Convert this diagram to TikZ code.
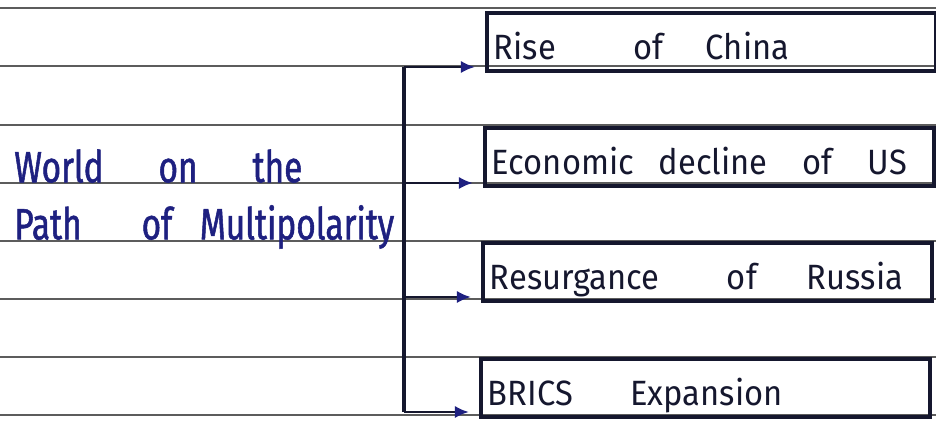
\documentclass[tikz,border=0pt]{standalone}
\usepackage{fontspec}
\setmainfont{Fira Sans}
\newfontfamily\hand{Fira Sans}[FakeStretch=0.76, FakeBold=1.2]
\newfontfamily\boxhand{Fira Sans}[FakeStretch=0.93]
\usepackage{xcolor}
\usepackage{tikz}
\usetikzlibrary{calc}
\usetikzlibrary{arrows.meta}
\definecolor{ink}{HTML}{1E2080}
\definecolor{pen}{HTML}{15172E}
\definecolor{ruled}{HTML}{5C5C5C}
\newcommand{\rulelines}{8,66,125,183,241,299,357,415}
\newcommand{\gap}[1]{\hspace{#1}}

\begin{document}
\begin{tikzpicture}[x=0.02cm, y=-0.02cm,
    every node/.style={inner sep=0pt},
    paper/.style={draw=ruled, line width=0.6pt},
    title/.style={anchor=north west, align=left, text=ink,
      font=\hand\fontsize{25}{32.5}\selectfont},
    topic/.style={draw=pen, line width=2.2pt, anchor=north west,
      minimum width=8.98cm, minimum height=1.16cm,
      text width=8.7cm, align=left, text=pen,
      text height=0.72cm, text depth=-0.2cm,
      font=\boxhand\fontsize{20}{22}\selectfont},
    trunk/.style={draw=pen, line width=1.8pt},
    feed/.style={draw=pen, line width=1.6pt, shorten >=0.2cm,
      -{Latex[length=8pt, width=7pt, color=ink]}}]
  \useasboundingbox (0,0) rectangle (936,438);

  % notebook lines
  \foreach \y in \rulelines {
    \draw[paper] (0,\y) -- (936,\y);
  }

  \node[title] (world) at (14,149)
    {World\gap{1.1cm}on\gap{1.1cm}the\\
     Path\gap{1.2cm}of\gap{0.55cm}Multipolarity};

  \node[topic] (china) at (485,11) {Rise\gap{1.55cm}of\gap{0.85cm}China};
  \node[topic] (usdecline) at (483,126) {Economic\gap{0.5cm}decline\gap{0.7cm}of\gap{0.7cm}US};
  \node[topic] (russia) at (481,241) {Resurgance\gap{1.35cm}of\gap{1.0cm}Russia};
  \node[topic] (brics) at (479,357) {BRICS\gap{1.15cm}Expansion};

  \coordinate (t1) at (404,67);
  \coordinate (t2) at (404,183);
  \coordinate (t3) at (404,297);
  \coordinate (t4) at (404,412);

  \draw[trunk] (t1) -- (t4);
  \draw[feed] (t1) -- (t1 -| china.west);
  \draw[feed] (t2) -- (t2 -| usdecline.west);
  \draw[feed] (t3) -- (t3 -| russia.west);
  \draw[feed] (t4) -- (t4 -| brics.west);
\end{tikzpicture}
\end{document}
